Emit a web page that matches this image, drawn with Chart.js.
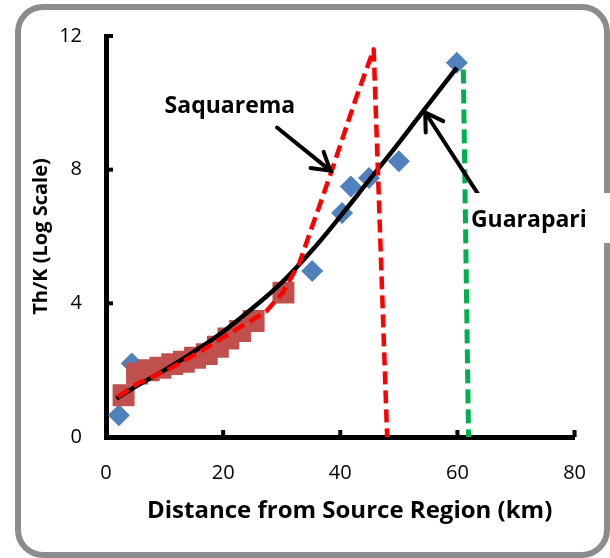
<!DOCTYPE html>
<html>
<head>
<meta charset="utf-8">
<script src="https://cdn.jsdelivr.net/npm/chart.js@4.4.0/dist/chart.umd.min.js"></script>
<style>
  html, body { margin: 0; padding: 0; background: #fff; }
  #wrap { width: 610px; height: 558px; position: relative; }
</style>
</head>
<body>
<div id="wrap"><canvas id="myChart" width="610" height="558"></canvas></div>
<script>
// axis ticks
const xTicks = [0, 20, 40, 60, 80];
const yTicks = [0, 4, 8, 12];

// Saquarema samples (red squares)
const saqDist  = [3.0, 5.3, 7.3, 9.3, 11.3, 13.3, 15.2, 17.2, 19.1, 20.9, 22.9, 25.2, 30.3];
const saqRatio = [1.25, 1.9, 2.0, 2.07, 2.18, 2.25, 2.37, 2.48, 2.7, 2.95, 3.17, 3.47, 4.32];

// Guarapari samples (blue diamonds)
const guaDist  = [2.2, 4.4, 35.2, 40.3, 41.8, 44.9, 50.0, 59.9];
const guaRatio = [0.65, 2.2, 4.97, 6.7, 7.5, 7.75, 8.25, 11.2];

// trend lines
const guaFitDist  = [1.8, 5, 10, 15, 20, 25, 30, 35, 40, 45, 50, 55, 59.9];
const guaFitRatio = [1.15, 1.5, 2.0, 2.55, 3.15, 3.85, 4.62, 5.55, 6.6, 7.7, 8.8, 9.95, 11.05];
const saqFitDist  = [2, 5.4, 11, 16.5, 21.6, 27.3, 30.1, 33, 38.6, 42.6, 45.7, 48];
const saqFitRatio = [1.2, 1.6, 2.05, 2.6, 3.15, 3.75, 4.3, 5.2, 8.0, 10.1, 11.6, 0];
const guaCutDist  = [61.0, 61.9];
const guaCutRatio = [11.0, 0];

const toXY = (xs, ys) => xs.map((x, i) => ({ x: x, y: ys[i] }));

const FONT = "'Open Sans', sans-serif";

// frame, inner tick marks, arrows and labels
const decorations = {
  id: "decorations",
  beforeDraw(chart) {
    const ctx = chart.ctx;
    ctx.save();
    ctx.fillStyle = "#fff";
    ctx.fillRect(0, 0, chart.width, chart.height);
    ctx.strokeStyle = "#8c8c8c";
    ctx.lineWidth = 6;
    ctx.beginPath();
    ctx.roundRect(18, 7, 589, 548, 25);
    ctx.stroke();
    ctx.restore();
  },
  afterDraw(chart) {
    const ctx = chart.ctx;
    const xs = chart.scales.x, ys = chart.scales.y;
    const area = chart.chartArea;
    ctx.save();
    ctx.strokeStyle = "#000";
    ctx.lineWidth = 4;
    xTicks.forEach(v => {
      const px = xs.getPixelForValue(v);
      ctx.beginPath(); ctx.moveTo(px, area.bottom); ctx.lineTo(px, area.bottom - 7); ctx.stroke();
    });
    yTicks.forEach(v => {
      const py = ys.getPixelForValue(v);
      ctx.beginPath(); ctx.moveTo(area.left, py); ctx.lineTo(area.left + 7, py); ctx.stroke();
    });

    function arrow(from, to) {
      const x0 = xs.getPixelForValue(from[0]), y0 = ys.getPixelForValue(from[1]);
      const x1 = xs.getPixelForValue(to[0]), y1 = ys.getPixelForValue(to[1]);
      const ang = Math.atan2(y0 - y1, x0 - x1);
      ctx.lineWidth = 4;
      ctx.lineCap = "round";
      ctx.beginPath(); ctx.moveTo(x0, y0); ctx.lineTo(x1, y1); ctx.stroke();
      ctx.beginPath();
      ctx.moveTo(x1 + 20 * Math.cos(ang - 0.55), y1 + 20 * Math.sin(ang - 0.55));
      ctx.lineTo(x1, y1);
      ctx.lineTo(x1 + 20 * Math.cos(ang + 0.55), y1 + 20 * Math.sin(ang + 0.55));
      ctx.stroke();
    }
    arrow([29.2, 9.26], [38.3, 7.97]);
    arrow([63.9, 7.17], [54.5, 9.71]);

    // white box under the Guarapari label (it covers the frame)
    ctx.fillStyle = "#fff";
    ctx.fillRect(474, 193, 136, 50);

    ctx.fillStyle = "#000";
    ctx.font = "bold 23px " + FONT;
    ctx.textBaseline = "alphabetic";
    ctx.fillText("Saquarema", xs.getPixelForValue(10), ys.getPixelForValue(9.71));
    ctx.fillText("Guarapari", xs.getPixelForValue(62.3), ys.getPixelForValue(6.28));
    ctx.restore();
  }
};

new Chart(document.getElementById("myChart"), {
  type: "scatter",
  data: {
    datasets: [
      {
        label: "Saquarema trend",
        data: toXY(saqFitDist, saqFitRatio),
        showLine: true,
        borderColor: "#ff0000",
        borderWidth: 4.5,
        borderDash: [13, 6],
        borderJoinStyle: "round",
        pointRadius: 0,
        tension: 0,
        order: 1
      },
      {
        label: "Guarapari cut",
        data: toXY(guaCutDist, guaCutRatio),
        showLine: true,
        borderColor: "#00b050",
        borderWidth: 5,
        borderDash: [14, 6],
        pointRadius: 0,
        order: 2
      },
      {
        label: "Guarapari trend",
        data: toXY(guaFitDist, guaFitRatio),
        showLine: true,
        borderColor: "#000",
        borderWidth: 4.5,
        pointRadius: 0,
        tension: 0.4,
        order: 3
      },
      {
        label: "Saquarema",
        data: toXY(saqDist, saqRatio),
        pointStyle: "rect",
        pointRadius: 15.5,
        pointBackgroundColor: "#c0504d",
        pointBorderWidth: 0,
        order: 4
      },
      {
        label: "Guarapari",
        data: toXY(guaDist, guaRatio),
        pointStyle: "rectRot",
        pointRadius: 11,
        pointBackgroundColor: "#4f81bd",
        pointBorderWidth: 0,
        order: 5
      }
    ]
  },
  options: {
    responsive: false,
    animation: false,
    events: [],
    layout: { padding: { top: 35, right: 33, left: 0, bottom: 0 } },
    plugins: { legend: { display: false }, tooltip: { enabled: false } },
    scales: {
      x: {
        type: "linear",
        min: 0, max: 80,
        afterBuildTicks: s => { s.ticks = xTicks.map(v => ({ value: v })); },
        afterFit: s => { s.height = 121; },
        grid: { display: false, drawTicks: false },
        border: { color: "#000", width: 5 },
        ticks: { color: "#000", padding: 24, font: { family: FONT, size: 20 } },
        title: {
          display: true,
          text: "   Distance from Source Region (km)",
          color: "#000",
          padding: { top: 0, bottom: 32 },
          font: { family: FONT, size: 24, weight: "bold" }
        }
      },
      y: {
        type: "linear",
        min: 0, max: 12,
        afterBuildTicks: s => { s.ticks = yTicks.map(v => ({ value: v })); },
        afterFit: s => { s.width = 106; },
        grid: { display: false, drawTicks: false },
        border: { color: "#000", width: 5 },
        ticks: { color: "#000", padding: 24, font: { family: FONT, size: 20 } },
        title: {
          display: true,
          text: "Th/K (Log Scale)",
          color: "#000",
          padding: { top: 29, bottom: 0 },
          font: { family: FONT, size: 20, weight: "bold" }
        }
      }
    }
  },
  plugins: [decorations]
});
</script>
</body>
</html>
